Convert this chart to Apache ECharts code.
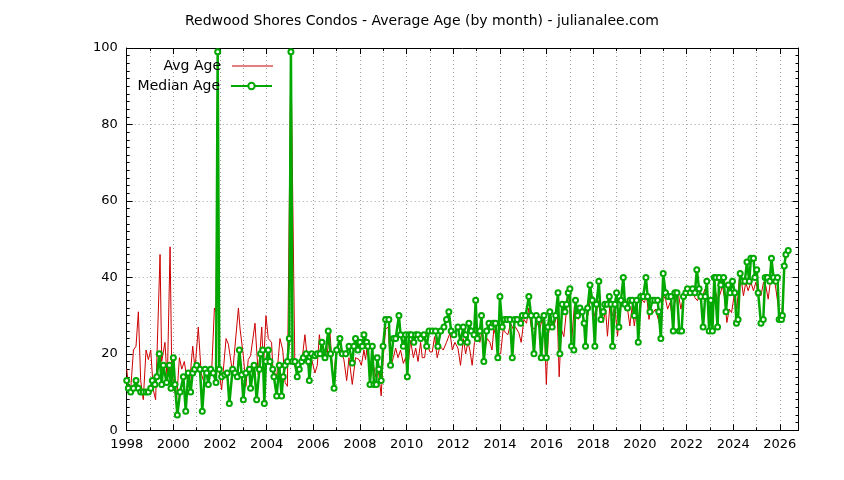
<!DOCTYPE html>
<html>
<head>
<meta charset="utf-8">
<script src="https://cdn.jsdelivr.net/npm/echarts@6/dist/echarts.min.js"></script>
<style>html,body{margin:0;padding:0;background:#fff;}#c{width:844px;height:480px;}</style>
</head>
<body>
<div id="c"></div>
<script>
const chartTitle = 'Redwood Shores Condos - Average Age (by month) - julianalee.com';
const seriesNames = ['Avg Age', 'Median Age'];

const medianYears = [1998.00,1998.07,1998.17,1998.29,1998.40,1998.50,1998.60,1998.71,1998.83,1998.93,1999.03,1999.10,1999.21,1999.29,1999.40,1999.50,1999.57,1999.71,1999.83,1999.90,2000.00,2000.07,2000.17,2000.29,2000.43,2000.53,2000.64,2000.74,2000.83,2000.91,2001.00,2001.14,2001.24,2001.36,2001.43,2001.50,2001.60,2001.71,2001.83,2001.90,2001.97,2002.07,2002.21,2002.31,2002.40,2002.54,2002.64,2002.74,2002.83,2002.93,2003.00,2003.11,2003.26,2003.31,2003.46,2003.57,2003.69,2003.74,2003.83,2003.90,2003.97,2004.07,2004.14,2004.26,2004.31,2004.43,2004.54,2004.64,2004.71,2004.79,2004.89,2004.97,2005.04,2005.11,2005.21,2005.31,2005.40,2005.50,2005.57,2005.69,2005.79,2005.83,2005.93,2006.07,2006.17,2006.29,2006.37,2006.50,2006.64,2006.74,2006.89,2007.00,2007.14,2007.24,2007.39,2007.53,2007.67,2007.74,2007.81,2007.91,2008.00,2008.10,2008.17,2008.29,2008.34,2008.43,2008.53,2008.60,2008.70,2008.74,2008.81,2008.91,2008.99,2009.10,2009.24,2009.31,2009.43,2009.53,2009.67,2009.74,2009.86,2009.96,2010.03,2010.10,2010.20,2010.31,2010.39,2010.49,2010.60,2010.74,2010.86,2010.96,2011.10,2011.24,2011.34,2011.46,2011.60,2011.71,2011.81,2011.91,2012.03,2012.20,2012.31,2012.43,2012.53,2012.60,2012.67,2012.77,2012.89,2012.96,2013.03,2013.14,2013.21,2013.31,2013.43,2013.53,2013.63,2013.71,2013.81,2013.91,2014.00,2014.10,2014.20,2014.31,2014.43,2014.53,2014.63,2014.74,2014.89,2014.96,2015.10,2015.24,2015.34,2015.46,2015.56,2015.67,2015.77,2015.89,2015.99,2016.06,2016.14,2016.24,2016.39,2016.49,2016.57,2016.67,2016.79,2016.86,2016.93,2017.00,2017.07,2017.17,2017.24,2017.33,2017.43,2017.53,2017.61,2017.67,2017.76,2017.86,2017.96,2018.07,2018.14,2018.24,2018.33,2018.43,2018.50,2018.61,2018.69,2018.76,2018.83,2018.93,2019.00,2019.10,2019.19,2019.29,2019.36,2019.47,2019.57,2019.67,2019.76,2019.86,2019.93,2020.04,2020.14,2020.26,2020.33,2020.43,2020.53,2020.64,2020.76,2020.81,2020.90,2021.00,2021.10,2021.21,2021.33,2021.43,2021.50,2021.59,2021.69,2021.79,2021.87,2021.97,2022.04,2022.16,2022.26,2022.36,2022.44,2022.54,2022.61,2022.71,2022.80,2022.87,2022.97,2023.04,2023.11,2023.19,2023.26,2023.33,2023.40,2023.47,2023.59,2023.69,2023.79,2023.87,2023.97,2024.07,2024.14,2024.21,2024.30,2024.40,2024.50,2024.59,2024.69,2024.76,2024.87,2024.93,2025.01,2025.07,2025.19,2025.29,2025.37,2025.47,2025.57,2025.64,2025.73,2025.83,2025.90,2025.97,2026.07,2026.11,2026.19,2026.26,2026.36];
const medianValues = [13,11,10,11,13,11,10,10,10,10,11,13,12,14,20,12,17,12.5,17,11,19,12,4,10,14,5,15,10,15,16,17,16,5,16,15,12,16,15,12.5,99,16,14,14.5,15,7,16,15,14,21,14.5,8,15,16,11,17,8,16,20,21,7,18,21,18,16,14,9,17,9,14,17,18,24,99,18,18,14,16,18,19,20,18,13,20,19.5,20,20,23,19,26,20,11,21,24,20,20,22,17.6,22,24,21,23,22,25,23,22,12,22,12,12,19,16,13,22,29,29,17,24,24,30,25,22,25,14,25,25,23,25,25,24,25,22,26,26,26,22,26,27,29,31,26,25,27,23,27,25,23,28,26,25,34,24,26,30,18,26,28,27,28,28,19,35,27,29,29,29,19,29,29,28,30,30,35,30,20,30,29,19,30,19,27,31,27,30,36,20,33,31,33,36,37,22,21,34,30,32,31,28,22,32,38,34,22,33,39,29,31,33,33,35,33,22,33,36,27,34,40,33,32,34,34,30,34,23,35,35,40,35,31,34,34,34,31,24,41,36,35,35,26,36,36,26,26,35,36,37,36,37,36,42,37,35,27,35,39,26,34,26,40,40,27,40,38,40,31,38,36,39,36,28,29,41,39,39,44,39,45,45,40,42,36,28,29,40,40,39,45,40,39,40,29,29,30,43,46,47];

const avgYears = [1998.00,1998.07,1998.17,1998.29,1998.40,1998.50,1998.60,1998.71,1998.83,1998.93,1999.03,1999.14,1999.24,1999.43,1999.50,1999.64,1999.74,1999.86,1999.93,2000.04,2000.14,2000.26,2000.36,2000.47,2000.57,2000.69,2000.83,2000.93,2001.07,2001.19,2001.29,2001.43,2001.54,2001.64,2001.76,2001.83,2001.90,2001.97,2002.07,2002.26,2002.36,2002.54,2002.79,2002.86,2003.00,2003.11,2003.21,2003.31,2003.50,2003.64,2003.79,2003.86,2003.97,2004.07,2004.21,2004.27,2004.43,2004.57,2004.69,2004.79,2004.89,2005.04,2005.21,2005.36,2005.50,2005.64,2005.79,2005.93,2006.07,2006.17,2006.26,2006.36,2006.46,2006.57,2006.71,2006.86,2006.97,2007.17,2007.31,2007.43,2007.53,2007.67,2007.81,2007.96,2008.06,2008.17,2008.24,2008.31,2008.46,2008.57,2008.67,2008.77,2008.91,2008.99,2009.10,2009.21,2009.31,2009.43,2009.53,2009.63,2009.74,2009.86,2009.96,2010.03,2010.17,2010.29,2010.39,2010.49,2010.60,2010.67,2010.77,2010.86,2011.00,2011.10,2011.20,2011.31,2011.43,2011.57,2011.71,2011.86,2011.96,2012.07,2012.20,2012.31,2012.43,2012.53,2012.63,2012.71,2012.81,2012.91,2013.03,2013.14,2013.24,2013.34,2013.46,2013.57,2013.66,2013.74,2013.86,2013.91,2014.03,2014.14,2014.24,2014.34,2014.46,2014.57,2014.67,2014.81,2014.91,2015.03,2015.14,2015.24,2015.34,2015.49,2015.60,2015.71,2015.81,2015.91,2015.99,2016.07,2016.17,2016.29,2016.39,2016.46,2016.54,2016.63,2016.74,2016.86,2016.96,2017.07,2017.19,2017.29,2017.36,2017.47,2017.57,2017.67,2017.79,2017.90,2018.00,2018.10,2018.21,2018.33,2018.43,2018.53,2018.61,2018.71,2018.81,2018.93,2019.04,2019.14,2019.24,2019.36,2019.47,2019.57,2019.67,2019.76,2019.86,2019.96,2020.07,2020.19,2020.29,2020.39,2020.47,2020.57,2020.67,2020.79,2020.90,2021.00,2021.10,2021.19,2021.29,2021.39,2021.50,2021.64,2021.76,2021.87,2021.97,2022.11,2022.26,2022.36,2022.47,2022.59,2022.69,2022.79,2022.90,2023.01,2023.11,2023.21,2023.33,2023.44,2023.54,2023.64,2023.73,2023.83,2023.93,2024.04,2024.16,2024.26,2024.36,2024.44,2024.54,2024.64,2024.76,2024.87,2024.97,2025.07,2025.19,2025.30,2025.40,2025.50,2025.59,2025.69,2025.79,2025.87,2025.97,2026.07,2026.19,2026.26,2026.36];
const avgValues = [16,12,10.6,21,22,31,13,8,21,18.5,21,10.6,8,46,18,23,12.5,48,16,10.6,8,19,16,18,14,12,22,16,27,15,13,12,14,15,32,31,99,15,10.6,24,22.5,15,32,26.5,19.5,11.5,18.5,19.5,28,14.5,27,16,30,24,23,16,14,24,21,12.5,11.5,99,16.5,16,17.5,25,16,18.5,15,17,25,20,20,18.5,26,12.5,20,21,18.5,13,19,12,19,18.5,17,21,18.5,22,14,17.5,14,16.5,9,18.5,26.5,27,16.5,19,21.5,19,21,17.5,19,15,23.5,19,21.5,18,23,19,19,23,20.5,20.5,24.5,19,22,21,23,25.5,21,23,21.5,17,24,20,23,21,17,23,24.5,23,26.5,21,24,23,21,26.5,24,20,20,26.5,25.5,25,28,26.5,27,25.5,23,29,28,32,27,26.5,28,26.5,29,26.5,12,24.5,29,26.5,29,30,14,26.5,24.5,31.7,36,22.9,32.5,32.5,29,32.5,29,27.3,30.8,35.2,31.7,29,33.9,29.5,28.2,31.7,24.6,32.5,29.9,32.5,24.6,30.8,33.9,31.7,31.7,27.3,32.5,27.3,31.7,28.2,34.3,33.4,35.2,29,31.7,30.8,31.7,29,26.4,35.2,34.3,31.7,33.4,29.9,33.4,36,31.7,35.2,36.5,35.2,36.9,34.7,33.9,36,35.2,36.9,35.2,29,32.5,36.9,34.3,35.6,37.8,34.3,28.2,31.7,30.8,35.2,31.7,39.6,38.7,35.2,38.7,36.5,38.7,36.5,38.7,36,35.2,38.7,37.8,34.3,38.7,40.4,38.7,39.1,30.8,28.2,41.3,45.7,47];

const xMin = 1998, xMax = 2026.8, yMin = 0, yMax = 100;

const zip = (xs, ys) => xs.map((x, i) => [x, ys[i]]);
const font = 'DejaVu Sans';
const gridLine = { show: true, lineStyle: { color: '#a0a0a0', type: [1, 3], width: 1 } };
const axisLineStyle = { show: true, lineStyle: { color: '#000', width: 1 } };
const evenYear = v => {
  const r = Math.round(v);
  return (Math.abs(v - r) < 1e-6 && r % 2 === 0) ? String(r) : '';
};
const legendText = { fontFamily: font, fontSize: 14, color: '#000', padding: [0, 6, 0, 0] };

const chart = echarts.init(document.getElementById('c'), null, { renderer: 'canvas' });
chart.setOption({
  animation: false,
  backgroundColor: '#fff',
  title: {
    text: chartTitle, left: 'center', top: 9,
    textStyle: { fontFamily: font, fontSize: 14, fontWeight: 'normal', color: '#000' }
  },
  legend: [
    { data: [{ name: seriesNames[0], icon: 'rect' }], orient: 'vertical', align: 'right',
      right: 571, top: 59, padding: 0, itemWidth: 41, itemHeight: 1,
      textStyle: legendText },
    { data: [seriesNames[1]], orient: 'vertical', align: 'right',
      right: 571, top: 79, padding: 0, itemWidth: 41, itemHeight: 8,
      textStyle: legendText }
  ],
  grid: { left: 126.7, right: 45.5, top: 48, bottom: 49.7, containLabel: false },
  xAxis: [
    { type: 'value', min: xMin, max: xMax, interval: 2, position: 'bottom',
      axisLine: axisLineStyle, splitLine: { show: false },
      axisTick: { show: true, inside: true, length: 6, lineStyle: { color: '#000' } },
      axisLabel: { formatter: evenYear, fontFamily: font, fontSize: 13, color: '#000', margin: 8 } },
    { type: 'value', min: xMin, max: xMax, interval: 1, position: 'bottom',
      axisLine: { show: false }, splitLine: gridLine,
      axisTick: { show: true, inside: true, length: 3, lineStyle: { color: '#000' } },
      axisLabel: { show: false } },
    { type: 'value', min: xMin, max: xMax, interval: 2, position: 'top',
      axisLine: axisLineStyle, splitLine: { show: false },
      axisTick: { show: true, inside: true, length: 6, lineStyle: { color: '#000' } },
      axisLabel: { show: false } },
    { type: 'value', min: xMin, max: xMax, interval: 1, position: 'top',
      axisLine: { show: false }, splitLine: { show: false },
      axisTick: { show: true, inside: true, length: 3, lineStyle: { color: '#000' } },
      axisLabel: { show: false } }
  ],
  yAxis: [
    { type: 'value', min: yMin, max: yMax, interval: 20, position: 'left',
      axisLine: axisLineStyle, splitLine: gridLine,
      axisTick: { show: true, inside: true, length: 6, lineStyle: { color: '#000' } },
      minorTick: { show: true, splitNumber: 10, length: 3, lineStyle: { color: '#000' } },
      axisLabel: { fontFamily: font, fontSize: 13, color: '#000', margin: 9 } },
    { type: 'value', min: yMin, max: yMax, interval: 20, position: 'right',
      axisLine: axisLineStyle, splitLine: { show: false },
      axisTick: { show: true, inside: true, length: 6, lineStyle: { color: '#000' } },
      minorTick: { show: true, splitNumber: 10, length: 3, lineStyle: { color: '#000' } },
      axisLabel: { show: false } }
  ],
  series: [
    { name: seriesNames[0], type: 'line', xAxisIndex: 0, yAxisIndex: 0,
      data: zip(avgYears, avgValues), symbol: 'none', z: 2,
      lineStyle: { color: '#cc0000', width: 1 }, itemStyle: { color: '#cc0000' } },
    { name: seriesNames[1], type: 'line', xAxisIndex: 0, yAxisIndex: 0,
      data: zip(medianYears, medianValues), symbol: 'emptyCircle', symbolSize: 5, z: 3,
      lineStyle: { color: '#00a800', width: 2.5 },
      itemStyle: { color: '#00a800', borderColor: '#00a800', borderWidth: 1.5 } }
  ]
});
</script>
</body>
</html>
